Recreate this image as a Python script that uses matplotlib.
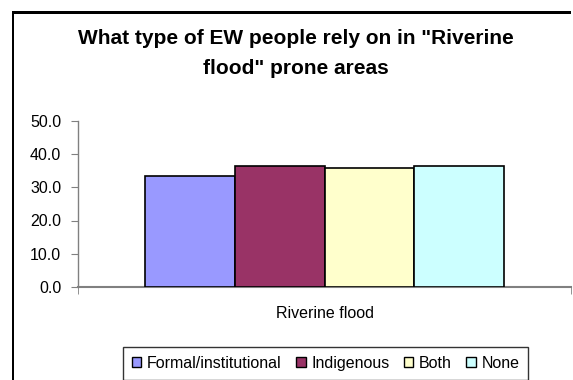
import matplotlib
matplotlib.use("Agg")
import matplotlib.pyplot as plt
from matplotlib.patches import Patch, Rectangle

plt.rcParams['font.family'] = ['Liberation Sans', 'DejaVu Sans']

categories = ["Riverine flood"]
series = ["Formal/institutional", "Indigenous", "Both", "None"]
values = [33.5, 36.4, 35.9, 36.4]
colors = ["#9999FF", "#993366", "#FFFFCC", "#CCFFFF"]
yticks = [0.0, 10.0, 20.0, 30.0, 40.0, 50.0]

W, H = 573, 380
fig = plt.figure(figsize=(W / 100, H / 100), dpi=100)

# chart border: left and top edges as thin filled strips (pixel units)
for (x0, y0, w, h) in [(11.5, 0, 2, H - 11.5), (11.5, H - 13.5, W - 13.5, 2)]:
    fig.patches.append(Rectangle((x0 / W, y0 / H), w / W, h / H, transform=fig.transFigure,
                                 facecolor="black", edgecolor="none", linewidth=0))

ax = fig.add_axes([78 / W, (H - 286.7) / H, 493 / W, (286.7 - 121.2) / H])

bw = 0.182
n = len(series)
for i, (s, v, c) in enumerate(zip(series, values, colors)):
    x = (i - (n - 1) / 2) * bw
    ax.bar(x, v, width=bw, color=c, edgecolor="black", linewidth=1.2, label=s, zorder=3)

ax.set_xlim(-0.5, 0.5)
ax.set_ylim(0, 50)
ax.set_yticks(yticks)
ax.set_yticklabels([f"{t:.1f}" for t in yticks], fontsize=11.5)
ax.set_xticks([0])
ax.set_xticklabels(categories, fontsize=11.5)
ax.tick_params(axis="x", length=0, pad=14)
ax.set_xticks([-0.5, 0.5], minor=True)
ax.tick_params(axis="x", which="minor", length=5, direction="out", color="#808080")
ax.tick_params(axis="y", length=5, direction="out", color="#808080", pad=7)

for side in ["top", "right"]:
    ax.spines[side].set_visible(False)
ax.spines["left"].set_color("#808080")
ax.spines["bottom"].set_color("#808080")
ax.spines["left"].set_linewidth(1.0)
ax.spines["bottom"].set_linewidth(1.5)

fig.text(296 / W, 1 - 38 / H, 'What type of EW people rely on in "Riverine',
         ha="center", va="center", fontsize=15, fontweight="bold")
fig.text(296 / W, 1 - 68 / H, 'flood" prone areas',
         ha="center", va="center", fontsize=15, fontweight="bold")

handles = [Patch(facecolor=c, edgecolor="black", linewidth=1.0) for c in colors]
leg = fig.legend(handles, series, loc="upper left", bbox_to_anchor=(123 / W, 1 - 347 / H),
                 ncol=4, fontsize=11.5, frameon=True, fancybox=False,
                 handlelength=0.6, handleheight=0.6, handletextpad=0.35,
                 columnspacing=0.9, borderpad=0.55, borderaxespad=0)
leg.get_frame().set_edgecolor("black")
leg.get_frame().set_linewidth(1.0)

fig.savefig("out.png", dpi=100)
